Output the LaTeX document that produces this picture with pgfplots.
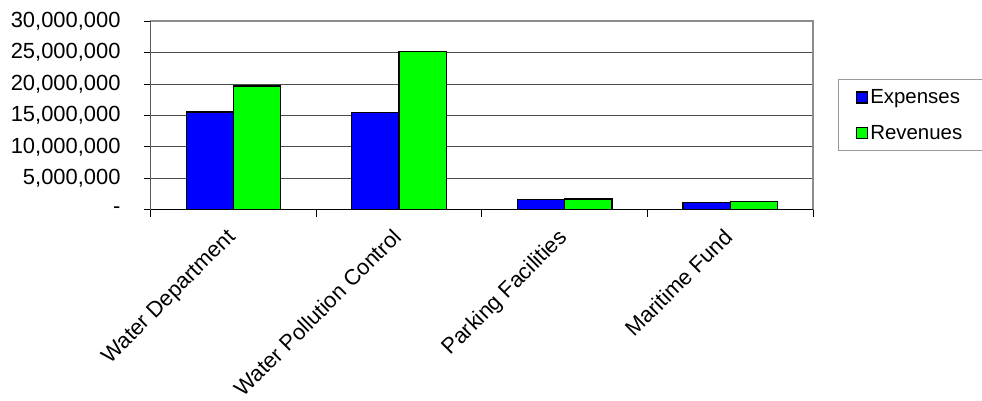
\documentclass[border=0pt]{standalone}
\usepackage{pgfplots}
\pgfplotsset{compat=1.18}
\usepackage{pgfplotstable}
\usepackage{fontspec}
\setmainfont{Liberation Sans}

% enterprise funds: expenses vs revenues
\pgfplotstableread{
idx expenses revenues
0 15530000 19670000
1 15480000 25120000
2 1650000 1700000
3 1110000 1270000
}\funds

\begin{document}
\begin{tikzpicture}
\useasboundingbox (0,0) rectangle (982bp,401bp);
\begin{axis}[
  at={(150.7bp,191.3bp)}, anchor=south west,
  scale only axis,
  width=662.3bp, height=188.7bp,
  ybar=0pt, bar width=47.3bp,
  xmin=-0.5, xmax=3.5,
  ymin=0, ymax=30000000,
  xtick={0,1,2,3},
  xticklabels={Water Department, Water Pollution Control, Parking Facilities, Maritime Fund},
  minor xtick={-0.5,0.5,1.5,2.5,3.5},
  ytick={0,5000000,10000000,15000000,20000000,25000000,30000000},
  yticklabels={-,{5,000,000},{10,000,000},{15,000,000},{20,000,000},{25,000,000},{30,000,000}},
  scaled y ticks=false,
  tick align=outside,
  tick pos=left,
  major x tick style={draw=none},
  major tick length=7bp, minor tick length=7bp,
  tick style={black, line width=0.8bp},
  ymajorgrids,
  grid style={black!70, line width=0.7bp},
  axis line style={draw=gray!90, line width=1.2bp},
  ticklabel style={font=\fontsize{22}{25}\selectfont},
  xticklabel style={rotate=45, anchor=north east, inner sep=2bp, xshift=-11bp},
  yticklabel style={inner sep=0bp, xshift=-23bp},
  legend style={at={(1,0.5)}, anchor=west, xshift=24.7bp,
    draw=gray!80, line width=0.8bp,
    font=\fontsize{20.5}{23}\selectfont,
    row sep=16bp, inner xsep=18bp, inner ysep=8bp},
  legend cell align=left,
]
\addplot[fill=blue, draw=black, line width=1.3bp,
  legend image code/.code={\draw[fill=blue, draw=black, line width=1.2bp] (0bp,-5.5bp) rectangle (11bp,5.5bp);}]
  table[x=idx, y=expenses] {\funds};
\addplot[fill=green, draw=black, line width=1.3bp,
  legend image code/.code={\draw[fill=green, draw=black, line width=1.2bp] (0bp,-5.5bp) rectangle (11bp,5.5bp);}]
  table[x=idx, y=revenues] {\funds};
\legend{Expenses, Revenues}
\draw[black, line width=1.3bp] (rel axis cs:0,1) -- (rel axis cs:0,0) -- (rel axis cs:1,0);
\end{axis}
\end{tikzpicture}
\end{document}
